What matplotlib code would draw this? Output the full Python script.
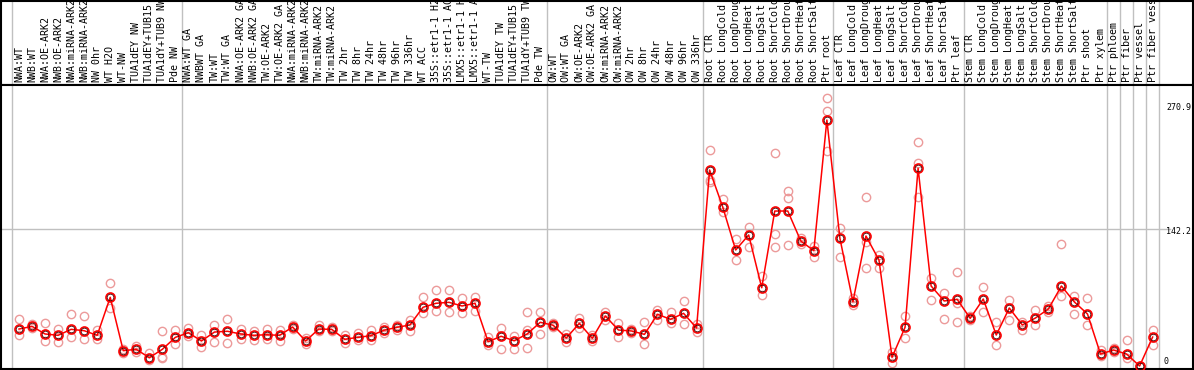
import numpy as np
import matplotlib
matplotlib.use("Agg")
import matplotlib.pyplot as plt

gene = "Potri.013G106500"

samples = [
    "NWA:WT", "NWB:WT", "NWA:OE-ARK2", "NWB:OE-ARK2", "NWA:miRNA-ARK2", "NWB:miRNA-ARK2",
    "NW 0hr", "WT H2O", "WT-NW", "TUA1dEY NW", "TUA1dEY+TUB15 NW", "TUA1dY+TUB9 NW", "Pde NW",
    "NWA:WT GA", "NWBWT GA", "TW:WT", "TW:WT GA", "NWA:OE-ARK2 GA", "NWB:OE-ARK2 GA",
    "TW:OE-ARK2", "TW:OE-ARK2 GA", "NWA:miRNA-ARK2", "NWB:miRNA-ARK2", "TW:miRNA-ARK2",
    "TW:miRNA-ARK2", "TW 2hr", "TW 8hr", "TW 24hr", "TW 48hr", "TW 96hr", "TW 336hr",
    "WT ACC", "35S::etr1-1 H2O", "35S::etr1-1 ACC", "LMX5::etr1-1 H2O", "LMX5::etr1-1 ACC",
    "WT-TW", "TUA1dEY TW", "TUA1dEY+TUB15 TW", "TUA1dY+TUB9 TW", "Pde TW",
    "OW:WT", "OW:WT GA", "OW:OE-ARK2", "OW:OE-ARK2 GA", "OW:miRNA-ARK2", "OW:miRNA-ARK2",
    "OW 2hr", "OW 8hr", "OW 24hr", "OW 48hr", "OW 96hr", "OW 336hr",
    "Root CTR", "Root LongCold", "Root LongDrought", "Root LongHeat", "Root LongSalt",
    "Root ShortCold", "Root ShortDrought", "Root ShortHeat", "Root ShortSalt", "Ptr root",
    "Leaf CTR", "Leaf LongCold", "Leaf LongDrought", "Leaf LongHeat", "Leaf LongSalt",
    "Leaf ShortCold", "Leaf ShortDrought", "Leaf ShortHeat", "Leaf ShortSalt", "Ptr leaf",
    "Stem CTR", "Stem LongCold", "Stem LongDrought", "Stem LongHeat", "Stem LongSalt",
    "Stem ShortCold", "Stem ShortDrought", "Stem ShortHeat", "Stem ShortSalt", "Ptr shoot",
    "Ptr xylem", "Ptr phloem", "Ptr fiber", "Ptr vessel", "Ptr fiber vessel",
]

means = [
    38.3, 41.1, 33.2, 31.8, 38.0, 36.6, 31.8, 71.2, 15.9, 17.3, 8.6, 17.3, 29.7,
    34.5, 25.9, 35.2, 36.0, 33.2, 31.8, 32.4, 31.8, 40.4, 25.9, 38.3, 38.0,
    27.7, 29.7, 31.4, 37.0, 40.1, 42.5, 60.8, 65.0, 66.0, 62.2, 65.0,
    25.2, 30.8, 26.2, 33.2, 45.3,
    42.2, 29.0, 44.2, 28.7, 51.8, 37.3, 36.3, 32.8, 53.6, 48.4, 54.6, 39.4,
    203.1, 165.1, 120.2, 135.8, 81.1, 160.6, 160.6, 129.5, 119.5, 254.9,
    132.3, 66.6, 134.7, 109.8, 9.0, 40.1, 204.9, 82.9, 67.4, 69.1,
    49.4, 69.4, 32.1, 60.1, 42.5, 49.7, 59.1, 82.9, 66.3, 53.9,
    12.4, 16.6, 12.4, 0.0, 30.0,
]

replicates = [
    [48.4, 32.4], [43.5, 39.4], [44.6, 25.9], [38.3, 25.2], [53.9, 29.7], [51.8, 27.7],
    [37.3, 28.0], [85.7, 59.8], [13.8, 17.6], [20.7, 14.5], [13.5, 6.2], [36.3, 9.6, 8.3],
    [37.3, 22.8], [39.4, 31.1], [32.1, 19.7], [42.5, 24.9], [48.4, 23.5], [38.3, 28.0],
    [36.3, 26.9], [38.3, 28.0], [37.3, 26.2], [42.5, 38.3], [29.0, 22.8], [42.5, 36.3],
    [40.4, 36.3], [32.1, 23.5], [34.2, 26.9], [37.3, 26.9], [40.7, 33.9], [42.5, 37.3],
    [47.7, 36.6], [71.8, 54.9], [78.8, 57.3], [78.8, 56.3], [70.5, 54.6], [71.2, 57.3],
    [30.4, 21.8], [39.1, 17.3], [31.1, 17.3], [55.6, 37.3, 18.3], [56.3, 33.2],
    [44.6, 40.4], [33.2, 24.9], [49.4, 39.1], [32.1, 25.9], [56.3, 47.7], [44.9, 30.4],
    [38.3, 34.2], [45.3, 22.8], [58.0, 47.7], [56.3, 44.2], [67.4, 43.2], [43.5, 35.5],
    [223.8, 192.7, 190.4], [173.1, 159.9], [131.6, 109.8], [144.4, 123.6], [93.6, 73.6],
    [220.4, 136.5, 123.0], [181.3, 173.8, 125.4], [126.1, 132.6], [124.4, 113.3],
    [277.4, 264.2, 222.8],
    [142.7, 112.6], [70.5, 63.2], [174.8, 128.2, 101.2], [115.0, 101.2], [14.8, 2.8],
    [51.8, 28.7], [231.8, 210.1, 175.4], [91.5, 68.4], [76.0, 48.4], [97.1, 65.0, 45.9],
    [51.8, 47.7], [81.9, 56.0], [45.6, 21.8], [68.4, 47.7], [45.6, 37.3], [58.0, 42.5],
    [62.2, 56.0], [126.4, 72.5], [72.5, 53.9], [70.5, 42.5],
    [16.6, 10.4], [18.7, 14.5], [26.9, 8.3], [0.0, 0.0], [37.3, 21.8],
]

group_breaks = [-0.5, 12.5, 40.5, 52.5, 62.5, 72.5, 83.5, 84.5, 85.5, 86.5, 87.5]
ytick_vals = [0, 142.2, 270.9]

W, H = 1194, 370
fig = plt.figure(figsize=(W / 100, H / 100), dpi=100)
mono = "DejaVu Sans Mono"
gray = "#c0c0c0"
xlim = (-1.42, 90.06)

# header with the sample names (clipped at the top like the original)
hax = fig.add_axes([0.5 / W, 285 / H, 1192 / W, 84 / H])
hax.set_xlim(*xlim)
hax.set_ylim(0, 1)
hax.set_xticks([])
hax.set_yticks([])
for s in hax.spines.values():
    s.set_linewidth(1.5)
for b in group_breaks:
    hax.axvline(b, color=gray, lw=1)
for i, name in enumerate(samples):
    hax.text(i, 0.03, name, rotation=90, ha="center", va="bottom",
             fontsize=7.2, family=mono, clip_on=True)

# expression plot
ax = fig.add_axes([0.5 / W, 1 / H, 1192 / W, 284 / H])
ax.set_xlim(*xlim)
ax.set_ylim(-3.1, 291.2)
ax.set_xticks([])
ax.set_yticks([])
for s in ax.spines.values():
    s.set_linewidth(1.5)
for b in group_breaks:
    ax.axvline(b, color=gray, lw=1, zorder=0)
ax.plot([xlim[0], 88.3], [142.2, 142.2], color=gray, lw=1, zorder=0)

x = np.arange(len(samples))
for i, reps in enumerate(replicates):
    ax.plot([i] * len(reps), reps, "o", ms=6, mfc="none", mec="#ec9a9a", mew=1.0, zorder=2)
ax.plot(x, means, color="red", lw=1.1, zorder=3)
ax.plot(x, means, "o", ms=6.5, mfc="none", mec="red", mew=1.2, zorder=4)
ax.plot(x, means, "o", ms=4.8, mfc="none", mec="#400000", mew=0.6, zorder=5)

ax.text(-0.65, 0.958, gene, transform=ax.get_yaxis_transform(), color="red",
        fontsize=7.2, family=mono, va="center", ha="left")

offsets = {0: 3, 142.2: -2, 270.9: -2}
for v in ytick_vals:
    lab = "0" if v == 0 else f"{v}"
    xp = 87.83 if v == 0 else 88.05
    ax.annotate(lab, (xp, v), xytext=(0, offsets[v]), textcoords="offset points",
                fontsize=6.0, family=mono, va="center", ha="left")

fig.savefig("out.png", dpi=100)
